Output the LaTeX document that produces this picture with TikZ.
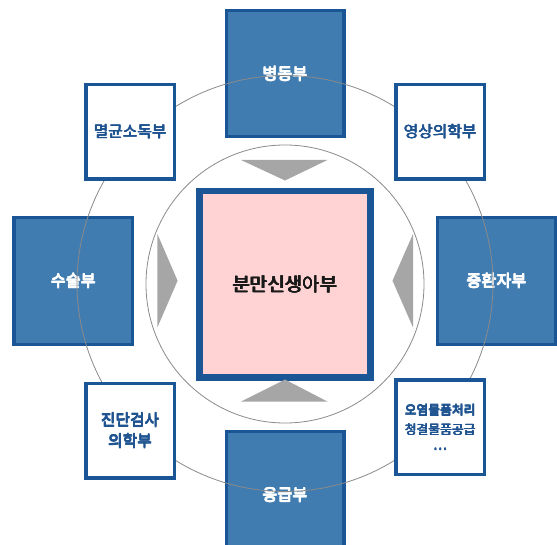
\documentclass[tikz,border=0pt]{standalone}
\usepackage{fontspec}
\setmainfont{Noto Sans CJK KR}
\newcommand{\bt}[1]{\leavevmode\rlap{#1}\rlap{\kern0.6pt #1}\rlap{\raisebox{0.4pt}{#1}}\rlap{\kern0.3pt\raisebox{0.2pt}{#1}}\kern0.6pt\raisebox{0.4pt}{#1}}
\definecolor{bfill}{HTML}{407CB0}
\definecolor{bline}{HTML}{1A5696}
\definecolor{btext}{HTML}{1F5491}
\definecolor{pinkf}{HTML}{FFD3D3}
\definecolor{trig}{HTML}{A6A6A6}
\definecolor{ring}{HTML}{8A8A8A}
\begin{document}
\begin{tikzpicture}[x=1pt,y=-1pt,
  bluebox/.style={draw=bline,fill=bfill,line width=3.5pt,minimum width=117.5pt,minimum height=126pt,inner sep=0pt,text=white,font=\fontsize{16.3}{18}\selectfont,align=center},
  whitebox/.style={draw=bline,fill=white,line width=3.5pt,minimum width=88.5pt,minimum height=94.5pt,inner sep=0pt,text=btext,font=\fontsize{15.8}{21}\selectfont,align=center},
  centerbox/.style={draw=bline,fill=pinkf,line width=6.5pt,minimum width=171pt,minimum height=186.5pt,inner sep=0pt,text=black!90,font=\fontsize{19}{22}\selectfont},
  ringline/.style={draw=ring,line width=0.8pt},
  arrowtri/.style={fill=trig}]
\useasboundingbox (0,0) rectangle (557,545);
\begin{scope}
\clip (0,0) rectangle (557,545);
% blue boxes
\node[bluebox] (top) at (285,73.7) {\bt{병동부}};
\node[bluebox,minimum width=118.5pt,minimum height=127pt] (left) at (73.3,280.8) {\bt{수술부}};
\node[bluebox,minimum width=118.5pt,minimum height=127pt] (right) at (496.5,280.8) {\bt{중환자부}};
\node[bluebox,minimum height=127pt] (bottom) at (285,495) {\bt{응급부}};
% rings
\node[circle,ringline,minimum size=416pt,inner sep=0pt] (outer) at (285,283.5) {};
\node[circle,ringline,minimum size=278pt,inner sep=0pt] (inner) at (285,284) {};
% white boxes
\node[whitebox] (tl) at (130.2,131.6) {\bt{멸균소독부}};
\node[whitebox] (tr) at (440.2,131.6) {\bt{영상의학부}};
\node[whitebox] (bl) at (130.1,430.5) {\bt{진단검사}\\\bt{의학부}};
\node[whitebox,font=\fontsize{12.8}{19.5}\selectfont] (br) at (440.2,427.3) {\bt{오염물품처리}\\\bt{청결물품공급}\\[-4pt]\bt{…}};
% center
\node[centerbox] (center) at (285.2,284.2) {\bt{분만신생아부}};
% triangles
\fill[arrowtri] (241,160) -- (327.5,160) -- (285,180.5) -- cycle;
\fill[arrowtri] (241,401.6) -- (327.5,401.6) -- (285,379.5) -- cycle;
\fill[arrowtri] (157.4,234) -- (157.4,327.4) -- (177.6,280.7) -- cycle;
\fill[arrowtri] (413,234) -- (413,327.4) -- (392.5,280.7) -- cycle;
\end{scope}
\end{tikzpicture}
\end{document}
